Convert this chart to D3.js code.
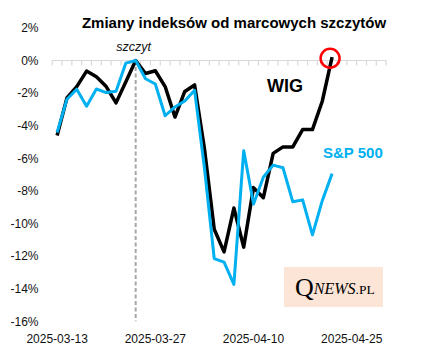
<!DOCTYPE html>
<html><head><meta charset="utf-8">
<script src="https://cdn.jsdelivr.net/npm/d3@7"></script>
<style>
html,body{margin:0;padding:0;background:#fff;}
svg{display:block;font-family:"Liberation Sans",Arial,sans-serif;}
</style></head>
<body><svg id="c" width="425" height="355"></svg>
<script>
const dates = ["2025-03-13","2025-03-14","2025-03-17","2025-03-18","2025-03-19","2025-03-20","2025-03-21","2025-03-24","2025-03-25","2025-03-26","2025-03-27","2025-03-28","2025-03-31","2025-04-01","2025-04-02","2025-04-03","2025-04-04","2025-04-07","2025-04-08","2025-04-09","2025-04-10","2025-04-11","2025-04-14","2025-04-15","2025-04-16","2025-04-17","2025-04-21","2025-04-22","2025-04-23","2025-04-24","2025-04-25","2025-04-28","2025-04-29","2025-04-30"];
const wig = [-4.6,-2.3,-1.6,-0.65,-1.0,-1.6,-2.6,-1.3,0,-0.8,-0.63,-1.6,-3.47,-1.9,-1.5,-5.4,-10.35,-11.74,-9.05,-11.45,-7.8,-8.42,-5.7,-5.3,-5.3,-4.24,-4.24,-2.5,0.2];
const sp500 = [-4.42,-2.38,-1.76,-2.8,-1.75,-1.97,-1.89,-0.16,0,-1.12,-1.44,-3.39,-2.85,-2.49,-1.83,-6.58,-12.16,-12.37,-13.74,-5.53,-8.8,-7.16,-6.42,-6.58,-8.67,-8.55,-10.7,-8.6,-6.94];
const yTicks = [2,0,-2,-4,-6,-8,-10,-12,-14,-16];
const xLabelDates = ["2025-03-13","2025-03-27","2025-04-10","2025-04-25"];
const peakDate = "2025-03-25";
const title = "Zmiany indeksów od marcowych szczytów";

const svg = d3.select("#c");
const x = d3.scaleBand().domain(dates).range([52.2, 386.1]).paddingInner(0).paddingOuter(0);
const y = d3.scaleLinear().domain([-16, 2]).range([321.3, 27.9]);
const cx = d => x(d) + x.bandwidth() / 2;

// title
svg.append("text").attr("x", 234).attr("y", 28).attr("text-anchor", "middle")
  .attr("font-weight", "bold").attr("font-size", 15).attr("fill", "#000").text(title);

// y axis labels
const yAx = svg.append("g").attr("transform", "translate(38.5,0)")
  .call(d3.axisLeft(y).tickValues(yTicks).tickSize(0).tickPadding(0).tickFormat(d => d + "%"));
yAx.select(".domain").remove();
yAx.selectAll("text").attr("font-size", 12).attr("fill", "#111").attr("font-family", "Liberation Sans, Arial, sans-serif");

// zero line with category boundary ticks
const zg = svg.append("g");
zg.append("line").attr("x1", x.range()[0]).attr("x2", x.range()[1]).attr("y1", y(0)).attr("y2", y(0))
  .attr("stroke", "#d9d9d9").attr("stroke-width", 1.2);
const bounds = dates.map(d => x(d)).concat([x.range()[1]]);
zg.selectAll("line.tk").data(bounds).join("line").attr("class", "tk")
  .attr("x1", d => d).attr("x2", d => d).attr("y1", y(0)).attr("y2", y(0) + 5)
  .attr("stroke", "#d9d9d9").attr("stroke-width", 1.2);

// x labels at bottom
const xAx = svg.append("g").attr("transform", "translate(0,331.5)")
  .call(d3.axisBottom(x).tickValues(xLabelDates).tickSize(0).tickPadding(3));
xAx.select(".domain").remove();
xAx.selectAll("text").attr("font-size", 12).attr("fill", "#111").attr("font-family", "Liberation Sans, Arial, sans-serif");

// peak dashed line
svg.append("line").attr("x1", cx(peakDate)).attr("x2", cx(peakDate))
  .attr("y1", y(0)).attr("y2", y(-16))
  .attr("stroke", "#a6a6a6").attr("stroke-width", 2).attr("stroke-dasharray", "4,2.5");
svg.append("text").attr("x", cx(peakDate) - 2).attr("y", 51).attr("text-anchor", "middle")
  .attr("font-style", "italic").attr("font-size", 12.5).attr("fill", "#111").text("szczyt");

// logo
const lg = svg.append("g");
lg.append("rect").attr("x", 284).attr("y", 267).attr("width", 99).attr("height", 40).attr("fill", "#fce4d6");
const lt = lg.append("text").attr("x", 295).attr("y", 296).attr("font-family", "Liberation Serif, Times New Roman, serif").attr("fill", "#000");
lt.append("tspan").attr("font-size", 26).text("Q");
lt.append("tspan").attr("font-size", 16).attr("font-style", "italic").attr("dy", -2).text("NEWS");
lt.append("tspan").attr("font-size", 13.5).text(".PL");

// lines
const line = d3.line().x((d, i) => cx(dates[i])).y(d => y(d));
svg.append("path").datum(wig).attr("d", line).attr("fill", "none")
  .attr("stroke", "#000").attr("stroke-width", 3.5).attr("stroke-linejoin", "round");
svg.append("path").datum(sp500).attr("d", line).attr("fill", "none")
  .attr("stroke", "#00b0f0").attr("stroke-width", 3).attr("stroke-linejoin", "round");

// series labels
svg.append("text").attr("x", 285).attr("y", 92).attr("text-anchor", "middle")
  .attr("font-weight", "bold").attr("font-size", 18).attr("fill", "#000").text("WIG");
svg.append("text").attr("x", 323).attr("y", 158)
  .attr("font-weight", "bold").attr("font-size", 15).attr("fill", "#00b0f0").text("S&P 500");

// red circle at last WIG point
const li = wig.length - 1;
svg.append("circle").attr("cx", cx(dates[li]) - 2).attr("cy", y(wig[li]) + 1).attr("r", 9.5)
  .attr("fill", "none").attr("stroke", "#ff0000").attr("stroke-width", 2.5);
</script></body></html>
